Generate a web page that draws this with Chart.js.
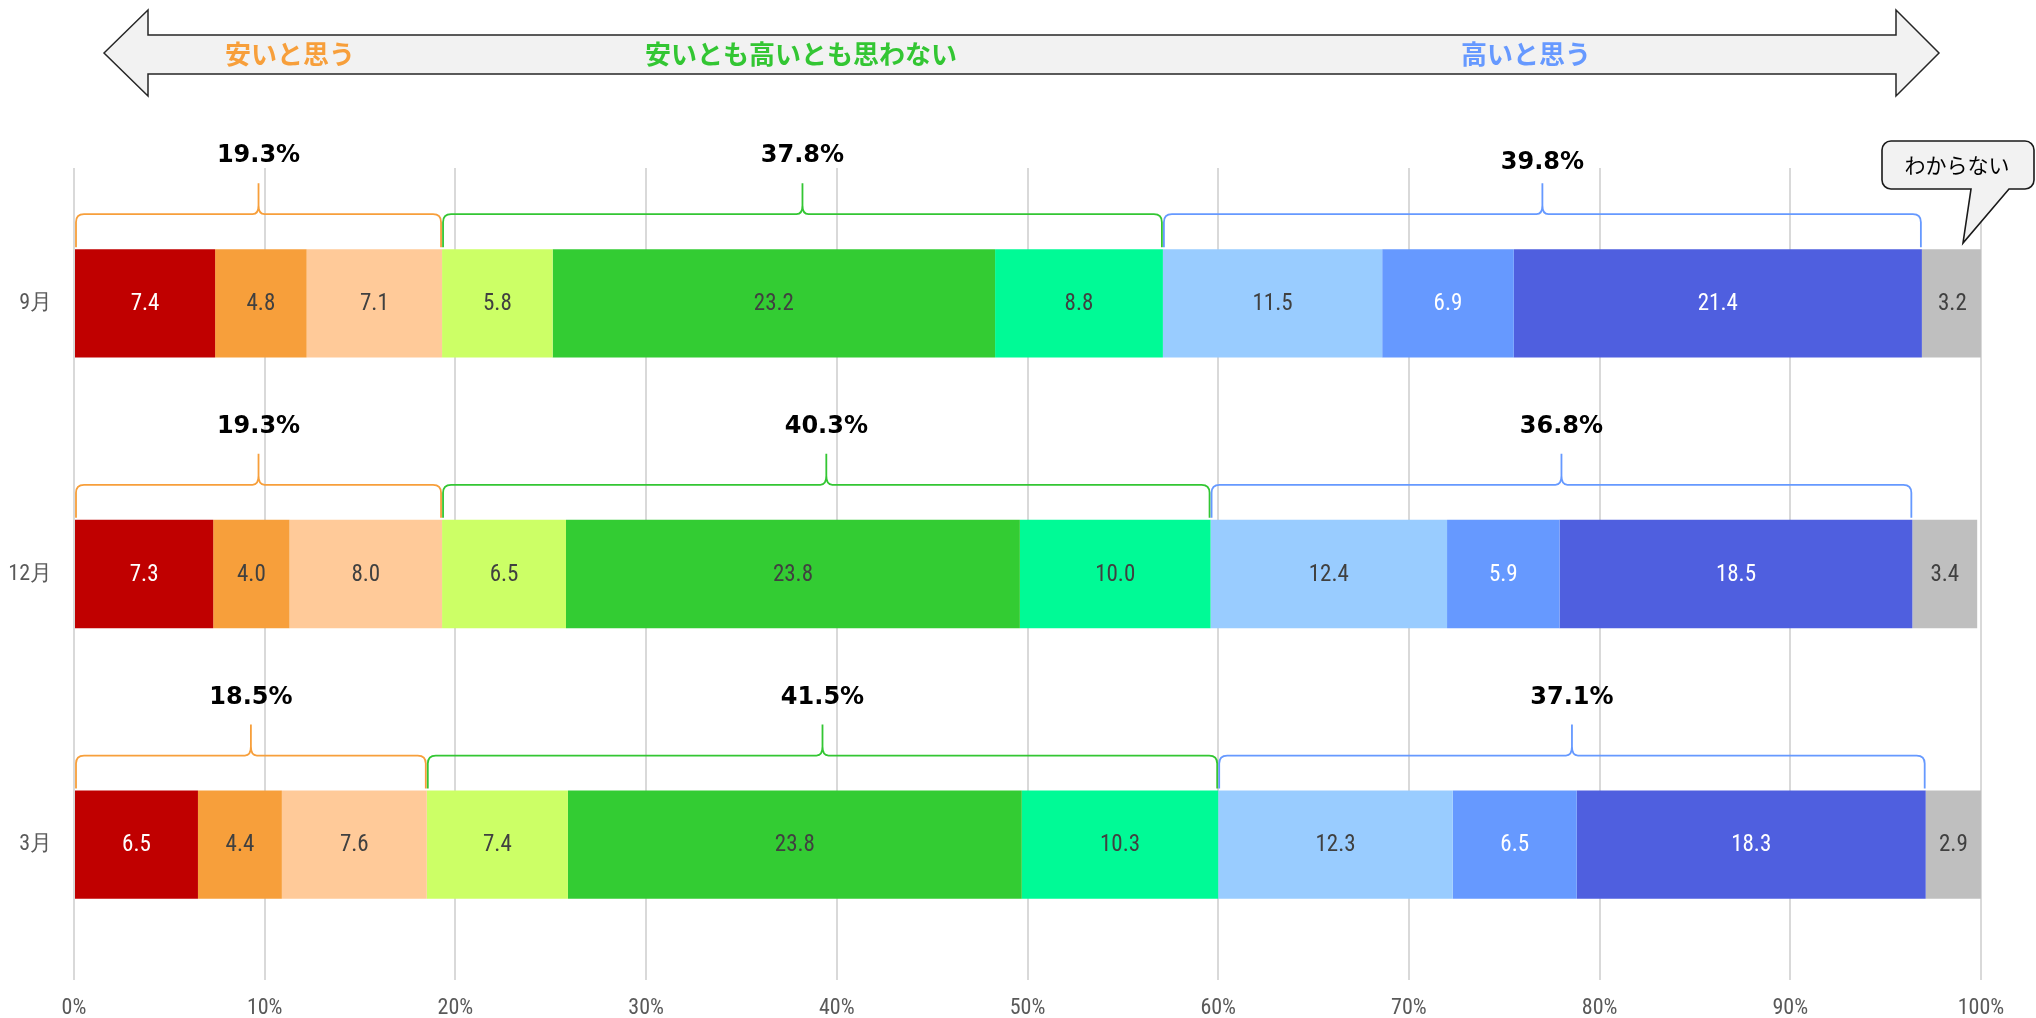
<!DOCTYPE html>
<html>
<head>
<meta charset="utf-8">
<script src="https://cdn.jsdelivr.net/npm/chart.js@4"></script>
<style>
  html, body { margin: 0; padding: 0; background: #fff; }
  #wrap { width: 2036px; height: 1018px; }
</style>
</head>
<body>
<div id="wrap"><canvas id="chart" width="2036" height="1018"></canvas></div>
<script>
// Survey months (rows of the chart)
const months = ['9月', '12月', '3月'];

// Share of answers per segment, left to right, in percent
const sep = [7.4, 4.8, 7.1, 5.8, 23.2, 8.8, 11.5, 6.9, 21.4, 3.2];
const dec = [7.3, 4.0, 8.0, 6.5, 23.8, 10.0, 12.4, 5.9, 18.5, 3.4];
const mar = [6.5, 4.4, 7.6, 7.4, 23.8, 10.3, 12.3, 6.5, 18.3, 2.9];

const xTicks = [0, 10, 20, 30, 40, 50, 60, 70, 80, 90, 100];

// Arrow captions and the three bracketed groups (segment index ranges)
const groupNames = ['安いと思う', '安いとも高いとも思わない', '高いと思う'];
const groupRanges = [[0, 3], [3, 6], [6, 9]];
const groupColors = ['#F79F3B', '#33C633', '#6699FF'];

const segColors = ['#C00000', '#F79F3B', '#FFCA99', '#CCFF66', '#33CC33',
                   '#00FA96', '#99CCFF', '#6699FF', '#4F5FDF', '#BFBFBF'];
const whiteText = [0, 7, 8];

const rows = [sep, dec, mar];
const numFont = '"Liberation Sans Narrow", "Roboto Condensed", "Liberation Sans", sans-serif';
const jpFont = '"Noto Sans CJK JP", "Noto Sans", sans-serif';

const datasets = segColors.map((c, i) => ({
    data: rows.map(r => r[i]),
    backgroundColor: c,
    borderWidth: 0,
    barPercentage: 0.4,
    categoryPercentage: 1.0
}));

function drawBrace(ctx, x0, x1, yb, yl, yp, color) {
    const xm = (x0 + x1) / 2;
    const r = 8;
    ctx.beginPath();
    ctx.moveTo(x0, yb);
    ctx.lineTo(x0, yl + r);
    ctx.quadraticCurveTo(x0, yl, x0 + r, yl);
    ctx.lineTo(xm - 6, yl);
    ctx.quadraticCurveTo(xm, yl, xm, yl - 9);
    ctx.lineTo(xm, yp);
    ctx.lineTo(xm, yl - 9);
    ctx.quadraticCurveTo(xm, yl, xm + 6, yl);
    ctx.lineTo(x1 - r, yl);
    ctx.quadraticCurveTo(x1, yl, x1, yl + r);
    ctx.lineTo(x1, yb);
    ctx.strokeStyle = color;
    ctx.lineWidth = 1.8;
    ctx.stroke();
}

const decor = {
    id: 'decor',
    afterDatasetsDraw(chart) {
        const ctx = chart.ctx;
        ctx.save();
        // numbers inside bars
        ctx.textAlign = 'center';
        ctx.textBaseline = 'middle';
        ctx.font = '23px ' + numFont;
        chart.data.datasets.forEach((ds, i) => {
            chart.getDatasetMeta(i).data.forEach((bar, j) => {
                ctx.fillStyle = whiteText.includes(i) ? '#ffffff' : '#404040';
                ctx.fillText(ds.data[j].toFixed(1), (bar.x + bar.base) / 2, bar.y + 1);
            });
        });
        // braces with group totals
        months.forEach((m, j) => {
            const first = chart.getDatasetMeta(0).data[j];
            const top = first.y - first.height / 2;
            groupRanges.forEach((g, k) => {
                const a = chart.getDatasetMeta(g[0]).data[j];
                const b = chart.getDatasetMeta(g[1] - 1).data[j];
                const x0 = a.base + 1, x1 = b.x - 1;
                let sum = 0;
                for (let i = g[0]; i < g[1]; i++) sum += rows[j][i];
                drawBrace(ctx, x0, x1, top - 2, top - 35, top - 66, groupColors[k]);
                ctx.fillStyle = '#000';
                ctx.font = 'bold 24px "DejaVu Sans", "Noto Sans", sans-serif';
                // the 9月 high-side label sits a little lower, next to the callout
                const dy = (j === 0 && k === 2) ? 7 : 0;
                ctx.fillText(sum.toFixed(1) + '%', (x0 + x1) / 2, top - 93 + dy);
            });
        });
        ctx.restore();
    },
    afterDraw(chart) {
        const ctx = chart.ctx;
        ctx.save();
        // double arrow
        ctx.beginPath();
        ctx.moveTo(104, 53);
        ctx.lineTo(148, 10);
        ctx.lineTo(148, 35);
        ctx.lineTo(1896, 35);
        ctx.lineTo(1896, 10);
        ctx.lineTo(1939, 53);
        ctx.lineTo(1896, 96);
        ctx.lineTo(1896, 74);
        ctx.lineTo(148, 74);
        ctx.lineTo(148, 96);
        ctx.closePath();
        ctx.fillStyle = '#F2F2F2';
        ctx.fill();
        ctx.strokeStyle = '#262626';
        ctx.lineWidth = 1.5;
        ctx.stroke();

        ctx.textAlign = 'center';
        ctx.textBaseline = 'middle';
        ctx.font = 'bold 26px ' + jpFont;
        const capX = [290, 801, 1526];
        groupNames.forEach((t, k) => {
            ctx.fillStyle = groupColors[k];
            ctx.fillText(t, capX[k], 54);
        });

        // callout for "don't know"
        const x0 = 1882, x1 = 2034, y0 = 141, y1 = 189, r = 9;
        ctx.beginPath();
        ctx.moveTo(x0 + r, y0);
        ctx.lineTo(x1 - r, y0);
        ctx.arcTo(x1, y0, x1, y0 + r, r);
        ctx.lineTo(x1, y1 - r);
        ctx.arcTo(x1, y1, x1 - r, y1, r);
        ctx.lineTo(2009, y1);
        ctx.lineTo(1963, 243);
        ctx.lineTo(1971, y1);
        ctx.lineTo(x0 + r, y1);
        ctx.arcTo(x0, y1, x0, y1 - r, r);
        ctx.lineTo(x0, y0 + r);
        ctx.arcTo(x0, y0, x0 + r, y0, r);
        ctx.closePath();
        ctx.fillStyle = '#F2F2F2';
        ctx.fill();
        ctx.strokeStyle = '#1a1a1a';
        ctx.lineWidth = 1.6;
        ctx.stroke();
        ctx.fillStyle = '#000';
        ctx.font = '21px ' + jpFont;
        ctx.fillText('わからない', 1957, 165);
        ctx.restore();
    }
};

new Chart(document.getElementById('chart').getContext('2d'), {
    type: 'bar',
    data: { labels: months, datasets: datasets },
    options: {
        indexAxis: 'y',
        responsive: false,
        animation: false,
        devicePixelRatio: 1,
        layout: { padding: { top: 168, right: 55, bottom: 0, left: 0 } },
        plugins: { legend: { display: false }, tooltip: { enabled: false } },
        scales: {
            x: {
                stacked: true,
                min: 0,
                max: 100,
                afterBuildTicks: s => { s.ticks = xTicks.map(v => ({ value: v })); },
                afterFit: s => { s.height = 38; },
                border: { display: false },
                grid: { color: '#D9D9D9', lineWidth: 2, drawTicks: false },
                ticks: {
                    padding: 15,
                    color: '#595959',
                    font: { family: numFont, size: 22 },
                    callback: v => v + '%'
                }
            },
            y: {
                stacked: true,
                afterFit: s => { s.width = 74; },
                border: { display: false },
                grid: { display: false, drawTicks: false },
                ticks: {
                    padding: 22,
                    color: '#595959',
                    font: { family: numFont, size: 22 }
                }
            }
        }
    },
    plugins: [decor]
});
</script>
</body>
</html>
